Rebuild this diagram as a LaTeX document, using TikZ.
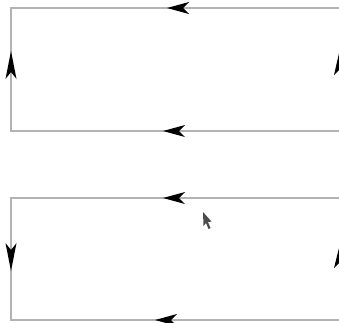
\documentclass[tikz,border=0pt]{standalone}
\begin{document}
\begin{tikzpicture}[x=1pt,y=-1pt,
  edge/.style={draw=black!30,line width=1.3pt},
  head/.style={fill=black},
  cursor/.style={fill=black!70}]
\useasboundingbox (0,0) rectangle (339,322);
\clip (0,0) rectangle (339,322);
% top rectangle
\draw[edge] (11,8) rectangle (345,131);
% bottom rectangle
\draw[edge] (11,198) rectangle (345,320);
% top rectangle arrowheads
\fill[head] (167,8) -- (189,2) -- (183,8) -- (189,14) -- cycle;
\fill[head] (163,131) -- (185,125) -- (179,131) -- (185,137) -- cycle;
\fill[head] (11,51) -- (5.5,79) -- (11,72) -- (16.5,79) -- cycle;
\fill[head] (340,49) -- (334,75) -- (340,69) -- (346,75) -- cycle;
% bottom rectangle arrowheads
\fill[head] (163,198) -- (185,192) -- (179,198) -- (185,204) -- cycle;
\fill[head] (155,320) -- (177,314) -- (171,320) -- (177,326) -- cycle;
\fill[head] (11,271) -- (5.5,243) -- (11,250) -- (16.5,243) -- cycle;
\fill[head] (340,244) -- (334,268) -- (340,262) -- (346,268) -- cycle;
% mouse pointer
\fill[cursor] (203,212) -- (203.5,226) -- (206,223) -- (208.5,229) -- (210.5,228) -- (208,222) -- (211.5,221.5) -- cycle;
\end{tikzpicture}
\end{document}
